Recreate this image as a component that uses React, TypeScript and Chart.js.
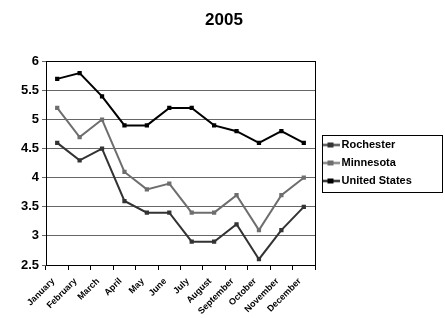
import React, { useEffect, useRef } from "react";
import { Chart, registerables } from "chart.js";

Chart.register(...registerables);

const months = ["January", "February", "March", "April", "May", "June", "July", "August", "September", "October", "November", "December"];
const rochester = [4.6, 4.3, 4.5, 3.6, 3.4, 3.4, 2.9, 2.9, 3.2, 2.6, 3.1, 3.5];
const minnesota = [5.2, 4.7, 5.0, 4.1, 3.8, 3.9, 3.4, 3.4, 3.7, 3.1, 3.7, 4.0];
const unitedStates = [5.7, 5.8, 5.4, 4.9, 4.9, 5.2, 5.2, 4.9, 4.8, 4.6, 4.8, 4.6];
const titleText = "2005";

function markerImage(color: string) {
  const c = document.createElement("canvas");
  c.width = 18;
  c.height = 7;
  const ctx = c.getContext("2d")!;
  ctx.strokeStyle = color;
  ctx.lineWidth = 2;
  ctx.beginPath();
  ctx.moveTo(0, 3.5);
  ctx.lineTo(18, 3.5);
  ctx.stroke();
  ctx.fillStyle = color;
  ctx.fillRect(6, 1, 6, 5);
  return c;
}

const LEGEND_WIDTH = 127;

const frame = {
  id: "frame",
  beforeLayout(chart: any) {
    const lg = chart.legend;
    if (lg && !lg.__patched) {
      const orig = lg.fit;
      lg.fit = function () {
        orig.call(this);
        this.width = LEGEND_WIDTH;
      };
      lg.__patched = true;
    }
  },
  afterLayout(chart: any) {
    const lg = chart.legend;
    if (lg) lg.left += 3;
  },
  afterDraw(chart: any) {
    const { ctx, chartArea: a, legend } = chart;
    ctx.save();
    ctx.strokeStyle = "#000";
    ctx.lineWidth = 1;
    ctx.strokeRect(Math.round(a.left) + 0.5, Math.round(a.top) + 0.5, Math.round(a.right - a.left), Math.round(a.bottom - a.top));
    if (legend && legend.legendHitBoxes && legend.legendHitBoxes.length) {
      const hb = legend.legendHitBoxes;
      const l = Math.min(...hb.map((h: any) => h.left)) - 3;
      const t = Math.min(...hb.map((h: any) => h.top)) - 5;
      const b = Math.max(...hb.map((h: any) => h.top + h.height)) + 5;
      const r = chart.width - 3;
      ctx.strokeRect(Math.round(l) + 0.5, Math.round(t) + 0.5, Math.round(r - l), Math.round(b - t));
    }
    ctx.restore();
  },
};

export default function App() {
  const ref = useRef<HTMLCanvasElement>(null);
  useEffect(() => {
    const colors = ["#333333", "#6e6e6e", "#000000"];
    const mk = (label: string, data: number[], color: string) => ({
      label,
      data,
      borderColor: color,
      backgroundColor: color,
      borderWidth: 2,
      pointStyle: "rect" as const,
      pointRadius: 3,
      pointBorderWidth: 0,
      tension: 0,
    });
    const chart = new Chart(ref.current!, {
      type: "line",
      data: {
        labels: months,
        datasets: [
          mk("Rochester", rochester, colors[0]),
          mk("Minnesota", minnesota, colors[1]),
          mk("United States", unitedStates, colors[2]),
        ],
      },
      options: {
        animation: false,
        responsive: false,
        layout: { padding: { left: 6, right: 3, top: 8, bottom: 0 } },
        plugins: {
          title: {
            display: true,
            text: titleText,
            color: "#000",
            font: { family: "Liberation Sans, Arial", size: 17, weight: "bold" },
            padding: { top: 2, bottom: 31 },
          },
          legend: {
            position: "right",
            labels: {
              color: "#000",
              font: { family: "Liberation Sans, Arial", size: 11, weight: "bold" },
              usePointStyle: true,
              boxWidth: 18,
              boxHeight: 7,
              padding: 7,
              generateLabels: (ch: any) =>
                ch.data.datasets.map((d: any, i: number) => ({
                  text: d.label,
                  fillStyle: d.borderColor,
                  strokeStyle: d.borderColor,
                  fontColor: "#000",
                  pointStyle: markerImage(d.borderColor),
                  datasetIndex: i,
                  hidden: false,
                  lineWidth: 0,
                })),
            },
          },
          tooltip: { enabled: false },
        },
        scales: {
          x: {
            offset: true,
            afterFit: (s: any) => {
              s.height = 53;
            },
            grid: { display: true, drawOnChartArea: false, drawTicks: true, tickLength: 5, offset: true, color: "#000" },
            border: { color: "#000" },
            ticks: {
              color: "#000",
              maxRotation: 45,
              minRotation: 45,
              autoSkip: false,
              padding: 6,
              labelOffset: -4,
              font: { family: "Liberation Sans, Arial", size: 9, weight: "bold" },
            },
          },
          y: {
            min: 2.5,
            max: 6,
            afterFit: (s: any) => {
              s.width = 40;
            },
            grid: { color: "#666", drawTicks: true, tickLength: 4 },
            border: { color: "#000" },
            ticks: {
              stepSize: 0.5,
              color: "#000",
              padding: 3,
              callback: (v: any) => String(Number(v)),
              font: { family: "Liberation Sans, Arial", size: 13, weight: "bold" },
            },
          },
        },
      },
      plugins: [frame],
    });
    return () => chart.destroy();
  }, []);
  return (
    <div style={{ position: "absolute", left: 0, top: 0, width: 445, height: 318, background: "#fff" }}>
      <canvas ref={ref} width={445} height={318} />
    </div>
  );
}
